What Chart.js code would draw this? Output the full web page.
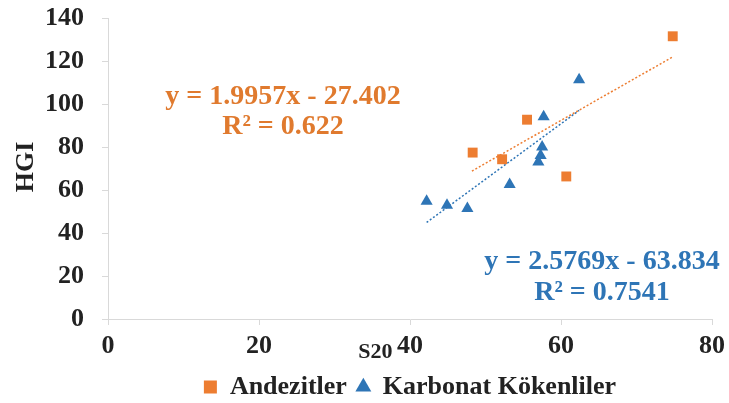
<!DOCTYPE html>
<html>
<head>
<meta charset="utf-8">
<script src="https://cdn.jsdelivr.net/npm/chart.js@4.4.0/dist/chart.umd.min.js"></script>
<style>
  html, body { margin: 0; padding: 0; background: #fff; }
  #wrap { width: 729px; height: 403px; }
</style>
</head>
<body>
<div id="wrap"><canvas id="chart" width="729" height="403"></canvas></div>
<script>
// Andezitler (kare) - S20 / HGI
var andezitX = [74.8, 55.5, 48.3, 52.2, 60.7];
var andezitY = [131.5, 92.7, 77.4, 74.3, 66.3];

// Karbonat Kökenliler (üçgen)
var karbonatX = [62.4, 57.7, 57.5, 57.3, 57.0, 53.2, 42.2, 44.9, 47.6];
var karbonatY = [111.3, 94.1, 80.0, 76.0, 73.0, 62.6, 54.8, 52.9, 51.4];

// Trend çizgileri (uç noktalar)
var andezitTrendX = [48.2, 74.8];
var andezitTrendY = [68.8, 121.9];
var karbonatTrendX = [42.2, 62.4];
var karbonatTrendY = [44.9, 97.0];

var xTicks = [0, 20, 40, 60, 80];
var yTicks = [0, 20, 40, 60, 80, 100, 120, 140];

var orange = '#ED7D31';
var blue = '#2E75B6';
var serif = '"Liberation Serif", "Times New Roman", serif';

function toPoints(xs, ys) {
    return xs.map(function(x, i) { return { x: x, y: ys[i] }; });
}

// Denklem etiketleri ve eksen başlığı
var labelPlugin = {
    id: 'labels',
    afterDraw: function(chart) {
        var ctx = chart.ctx;
        var xs = chart.scales.x;
        ctx.save();
        ctx.font = 'bold 28px ' + serif;
        ctx.textAlign = 'center';
        ctx.textBaseline = 'middle';
        ctx.fillStyle = '#E07A2E';
        ctx.fillText('y = 1.9957x - 27.402', 283, 97);
        ctx.fillText('R² = 0.622', 283, 127);
        ctx.fillStyle = blue;
        ctx.fillText('y = 2.5769x - 63.834', 602, 262);
        ctx.fillText('R² = 0.7541', 602, 293);
        // x ekseni başlığı
        ctx.fillStyle = '#222';
        ctx.font = 'bold 22px ' + serif;
        ctx.fillText('S20', xs.getPixelForValue(35.4), 352);
        // y ekseni başlığı
        ctx.translate(26, 167);
        ctx.rotate(-Math.PI / 2);
        ctx.font = 'bold 26px ' + serif;
        ctx.fillText('HGI', 0, 0);
        ctx.restore();
    }
};

var ctx = document.getElementById('chart').getContext('2d');
var chart = new Chart(ctx, {
    type: 'scatter',
    data: {
        datasets: [
            {
                label: 'Andezitler',
                data: toPoints(andezitX, andezitY),
                pointStyle: 'rect',
                pointRadius: 7,
                backgroundColor: orange,
                borderColor: orange,
                borderWidth: 0
            },
            {
                label: 'Karbonat Kökenliler',
                data: toPoints(karbonatX, karbonatY),
                pointStyle: 'triangle',
                pointRadius: 7,
                backgroundColor: blue,
                borderColor: blue,
                borderWidth: 0
            },
            {
                label: 'trendA',
                data: toPoints(andezitTrendX, andezitTrendY),
                showLine: true,
                pointRadius: 0,
                borderColor: orange,
                borderWidth: 1.5,
                borderDash: [2, 2]
            },
            {
                label: 'trendK',
                data: toPoints(karbonatTrendX, karbonatTrendY),
                showLine: true,
                pointRadius: 0,
                borderColor: blue,
                borderWidth: 1.5,
                borderDash: [2, 2]
            }
        ]
    },
    options: {
        responsive: false,
        animation: false,
        layout: { padding: { top: 18, right: 17, left: 0, bottom: -7 } },
        plugins: {
            tooltip: { enabled: false },
            legend: {
                position: 'bottom',
                fullSize: false,
                labels: {
                    usePointStyle: true,
                    boxWidth: 13,
                    boxHeight: 13,
                    padding: 10,
                    color: '#222',
                    font: { family: serif, size: 26, weight: 'bold' },
                    filter: function(item) { return item.datasetIndex < 2; }
                }
            }
        },
        scales: {
            x: {
                type: 'linear',
                min: 0,
                max: 80,
                afterBuildTicks: function(scale) {
                    scale.ticks = xTicks.map(function(v) { return { value: v }; });
                },
                afterFit: function(scale) {
                    scale.height = 45;
                    scale.paddingLeft = 0;
                    scale.paddingRight = 0;
                },
                grid: { drawOnChartArea: false, color: '#d9d9d9', tickLength: 6 },
                border: { color: '#d9d9d9' },
                ticks: {
                    padding: 6,
                    color: '#222',
                    font: { family: serif, size: 26, weight: 'bold' }
                }
            },
            y: {
                min: 0,
                max: 140,
                afterBuildTicks: function(scale) {
                    scale.ticks = yTicks.map(function(v) { return { value: v }; });
                },
                afterFit: function(scale) {
                    scale.width = 108;
                    scale.paddingTop = 0;
                    scale.paddingBottom = 0;
                },
                grid: { drawOnChartArea: false, color: '#d9d9d9', tickLength: 6 },
                border: { color: '#d9d9d9' },
                ticks: {
                    padding: 18,
                    color: '#222',
                    font: { family: serif, size: 26, weight: 'bold' }
                }
            }
        }
    },
    plugins: [labelPlugin]
});
</script>
</body>
</html>
